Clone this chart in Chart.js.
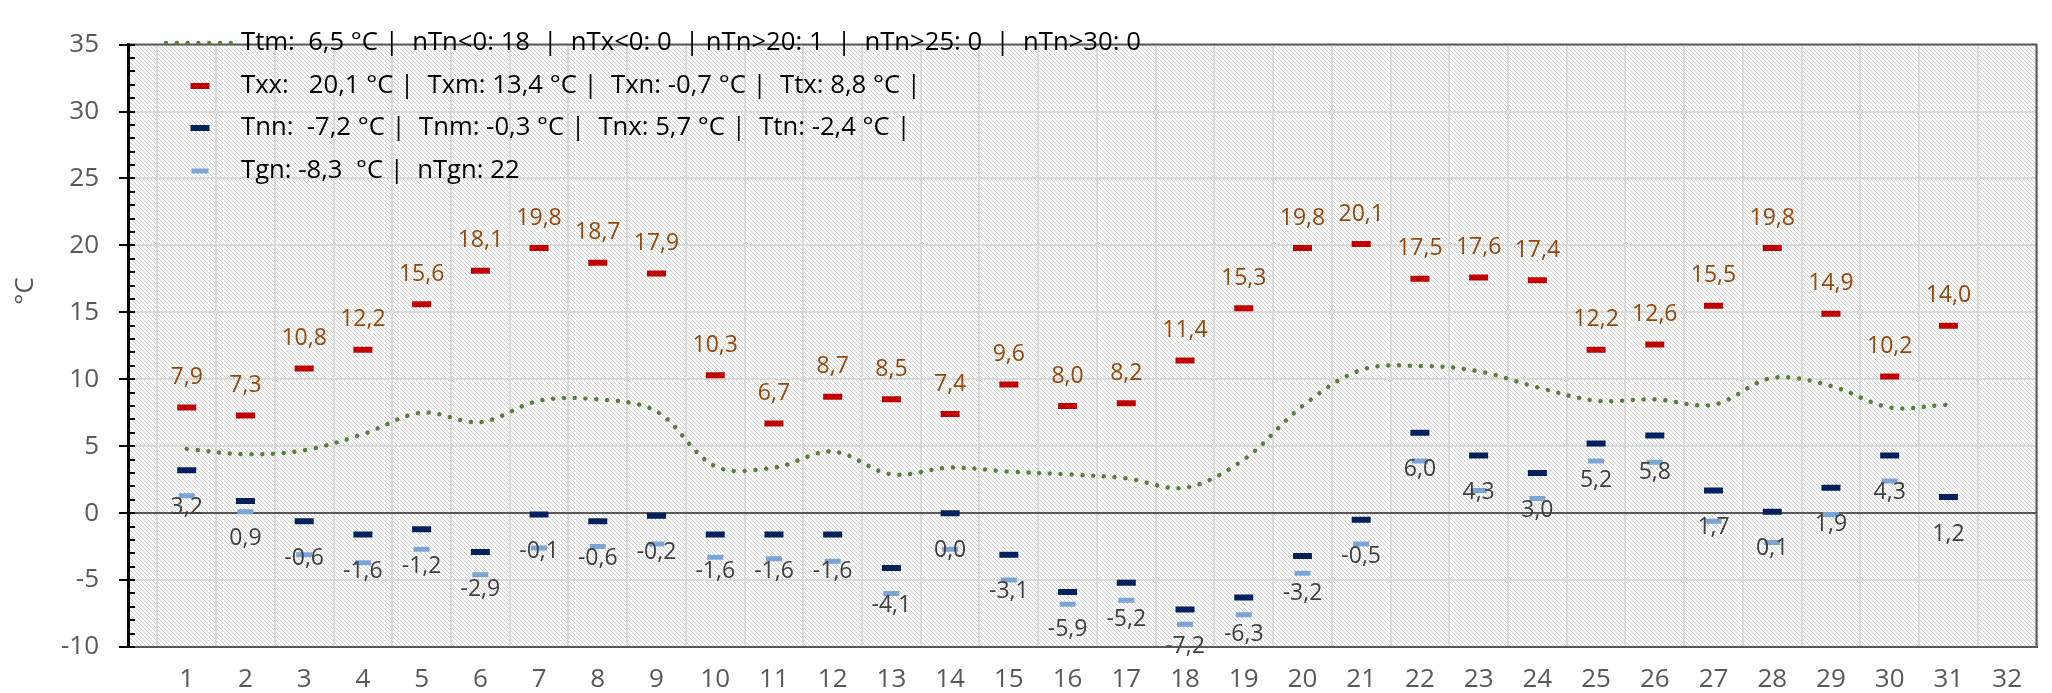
<!DOCTYPE html>
<html>
<head>
<meta charset="utf-8">
<title>Temperature month</title>
<script src="https://cdn.jsdelivr.net/npm/chart.js@4.4.1/dist/chart.umd.min.js"></script>
<style>
  html, body { margin: 0; padding: 0; background: #fff; }
  #wrap { width: 2052px; height: 693px; position: relative; }
</style>
</head>
<body>
<div id="wrap"><canvas id="tempChart"></canvas></div>
<script>
// days of the month (category labels)
const days = ['1','2','3','4','5','6','7','8','9','10','11','12','13','14','15','16',
              '17','18','19','20','21','22','23','24','25','26','27','28','29','30','31'];
const xTickValues = [1,2,3,4,5,6,7,8,9,10,11,12,13,14,15,16,17,18,19,20,21,22,23,24,25,26,27,28,29,30,31,32];

// daily mean temperature (Ttm)
const tempMean = [4.8, 4.4, 4.7, 5.9, 7.5, 6.8, 8.4, 8.5, 7.6, 3.5, 3.4, 4.6, 2.9, 3.4, 3.1, 2.9,
                  2.6, 1.9, 4.0, 8.0, 10.7, 11.0, 10.6, 9.4, 8.4, 8.5, 8.1, 10.1, 9.5, 7.9, 8.1];
// daily maximum (Tx)
const tempMax = [7.9, 7.3, 10.8, 12.2, 15.6, 18.1, 19.8, 18.7, 17.9, 10.3, 6.7, 8.7, 8.5, 7.4, 9.6, 8.0,
                 8.2, 11.4, 15.3, 19.8, 20.1, 17.5, 17.6, 17.4, 12.2, 12.6, 15.5, 19.8, 14.9, 10.2, 14.0];
// daily minimum (Tn)
const tempMin = [3.2, 0.9, -0.6, -1.6, -1.2, -2.9, -0.1, -0.6, -0.2, -1.6, -1.6, -1.6, -4.1, 0.0, -3.1, -5.9,
                 -5.2, -7.2, -6.3, -3.2, -0.5, 6.0, 4.3, 3.0, 5.2, 5.8, 1.7, 0.1, 1.9, 4.3, 1.2];
// ground minimum (Tg)
const tempGround = [1.3, 0.1, -3.1, -3.7, -2.7, -4.6, -2.6, -2.5, -2.3, -3.3, -3.4, -3.6, -6.0, -2.7, -5.0, -6.8,
                    -6.5, -8.3, -7.6, -4.5, -2.3, 3.9, 1.7, 1.1, 3.9, 3.8, -0.6, -2.2, -0.1, 2.4, null];

const legendTexts = [
  'Ttm:  6,5 °C |  nTn<0: 18  |  nTx<0: 0  | nTn>20: 1  |  nTn>25: 0  |  nTn>30: 0',
  'Txx:   20,1 °C |  Txm: 13,4 °C |  Txn: -0,7 °C |  Ttx: 8,8 °C |',
  'Tnn:  -7,2 °C |  Tnm: -0,3 °C |  Tnx: 5,7 °C |  Ttn: -2,4 °C |',
  'Tgn: -8,3  °C |  nTgn: 22'
];

const FONT = '"Open Sans", "Liberation Sans", sans-serif';
const GREEN = '#548235', RED = '#c00000', NAVY = '#002060', LIGHTBLUE = '#7ba5d6';
const DOTS = [0.01, 10.8];

function fmt(v) {
  return v.toFixed(1).replace('.', ',');
}

// hatched plot background (light downward diagonal)
const hatchPlugin = {
  id: 'hatch',
  beforeDraw(chart) {
    const { ctx, chartArea: a } = chart;
    const tile = document.createElement('canvas');
    tile.width = 4; tile.height = 4;
    const t = tile.getContext('2d');
    t.fillStyle = '#ffffff';
    t.fillRect(0, 0, 4, 4);
    t.fillStyle = '#cdcdcd';
    for (let i = 0; i < 4; i++) t.fillRect(i, i, 1, 1);
    ctx.save();
    ctx.fillStyle = ctx.createPattern(tile, 'repeat');
    ctx.fillRect(a.left, a.top, a.right - a.left, a.bottom - a.top);
    ctx.restore();
  }
};

// frame on top/right and the tick marks of the value axis
const framePlugin = {
  id: 'frame',
  beforeDatasetsDraw(chart) {
    const { ctx, chartArea: a } = chart;
    const y = chart.scales.y;
    ctx.save();
    ctx.strokeStyle = '#595959';
    ctx.lineWidth = 2;
    ctx.beginPath();
    ctx.moveTo(a.left, a.top);
    ctx.lineTo(a.right, a.top);
    ctx.lineTo(a.right, a.bottom);
    ctx.stroke();

    ctx.strokeStyle = '#000';
    ctx.lineWidth = 2;
    for (let v = y.min; v <= y.max; v++) {
      const py = Math.round(y.getPixelForValue(v));
      ctx.beginPath();
      if (v % 5 === 0) {
        ctx.moveTo(a.left - 9, py);
      } else {
        ctx.moveTo(a.left, py);
      }
      ctx.lineTo(a.left + 7, py);
      ctx.stroke();
    }
    ctx.restore();
  }
};

// value labels above max / below min
const labelPlugin = {
  id: 'valueLabels',
  afterDatasetsDraw(chart) {
    const ctx = chart.ctx;
    ctx.save();
    ctx.font = '23px ' + FONT;
    ctx.textAlign = 'center';
    ctx.textBaseline = 'middle';
    chart.data.datasets.forEach((ds, i) => {
      if (!ds.valueLabel) return;
      const meta = chart.getDatasetMeta(i);
      meta.data.forEach((pt, j) => {
        const v = ds.data[j];
        if (v === null || v === undefined) return;
        ctx.fillStyle = ds.valueLabel.color;
        ctx.fillText(fmt(v), pt.x, pt.y + ds.valueLabel.dy);
      });
    });
    ctx.restore();
  }
};

// legend in the upper left of the plot + y title
const legendPlugin = {
  id: 'innerLegend',
  afterDraw(chart) {
    const ctx = chart.ctx;
    const rowsY = [43, 86, 128, 171];
    const markers = [
      { kind: 'dots', color: GREEN },
      { kind: 'dash', color: RED, w: 19, h: 6 },
      { kind: 'dash', color: NAVY, w: 19, h: 6 },
      { kind: 'dash', color: LIGHTBLUE, w: 17, h: 5 }
    ];
    ctx.save();
    markers.forEach((m, i) => {
      const y = rowsY[i];
      ctx.strokeStyle = m.color;
      if (m.kind === 'dots') {
        ctx.lineWidth = 4.5;
        ctx.lineCap = 'round';
        ctx.setLineDash(DOTS);
        ctx.beginPath();
        ctx.moveTo(166, y);
        ctx.lineTo(234, y);
        ctx.stroke();
        ctx.setLineDash([]);
      } else {
        ctx.lineWidth = m.h;
        ctx.lineCap = 'butt';
        ctx.beginPath();
        ctx.moveTo(200 - m.w / 2, y);
        ctx.lineTo(200 + m.w / 2, y);
        ctx.stroke();
      }
    });
    ctx.font = '25.7px ' + FONT;
    ctx.fillStyle = '#000';
    ctx.textAlign = 'left';
    ctx.textBaseline = 'middle';
    legendTexts.forEach((txt, i) => ctx.fillText(txt, 241, rowsY[i]));

    // axis title
    ctx.translate(26, 291);
    ctx.rotate(-Math.PI / 2);
    ctx.textAlign = 'center';
    ctx.fillStyle = '#595959';
    ctx.font = '26px ' + FONT;
    ctx.fillText('°C', 0, 0);
    ctx.restore();
  }
};

const ctx = document.getElementById('tempChart').getContext('2d');

new Chart(ctx, {
  type: 'line',
  data: {
    labels: days,
    datasets: [
      {
        label: 'Tx',
        data: tempMax,
        showLine: false,
        pointStyle: 'line',
        pointRadius: 9.5,
        pointBorderWidth: 6,
        pointBorderColor: RED,
        pointBackgroundColor: RED,
        valueLabel: { color: '#974708', dy: -30 },
        order: 1
      },
      {
        label: 'Tn',
        data: tempMin,
        showLine: false,
        pointStyle: 'line',
        pointRadius: 9.5,
        pointBorderWidth: 6,
        pointBorderColor: NAVY,
        pointBackgroundColor: NAVY,
        valueLabel: { color: '#404040', dy: 37 },
        order: 2
      },
      {
        label: 'Tg',
        data: tempGround,
        showLine: false,
        pointStyle: 'line',
        pointRadius: 8,
        pointBorderWidth: 5,
        pointBorderColor: LIGHTBLUE,
        pointBackgroundColor: LIGHTBLUE,
        order: 3
      },
      {
        label: 'Ttm',
        data: tempMean,
        borderColor: GREEN,
        borderWidth: 4.5,
        borderDash: DOTS,
        borderCapStyle: 'round',
        pointRadius: 0,
        tension: 0.35,
        fill: false,
        order: 4
      }
    ]
  },
  options: {
    responsive: true,
    maintainAspectRatio: false,
    animation: false,
    events: [],
    layout: { padding: { top: 20, right: 10, left: 0, bottom: 0 } },
    plugins: {
      legend: { display: false },
      tooltip: { enabled: false }
    },
    scales: {
      x: {
        type: 'linear',
        min: 0,
        max: 32.5,
        afterBuildTicks: (scale) => {
          scale.ticks = xTickValues.map(v => ({ value: v }));
        },
        afterFit: (scale) => { scale.height = 46; },
        ticks: {
          autoSkip: false,
          maxRotation: 0,
          padding: 17,
          color: '#595959',
          font: { family: FONT, size: 26 },
          callback: (v) => String(v)
        },
        grid: { offset: true, color: '#d9d9d9', lineWidth: 2, drawTicks: false },
        border: { color: '#595959', width: 2 }
      },
      y: {
        min: -10,
        max: 35,
        afterFit: (scale) => { scale.width = 128; },
        ticks: {
          stepSize: 5,
          padding: 29,
          color: '#595959',
          font: { family: FONT, size: 26 }
        },
        grid: {
          drawTicks: false,
          color: (c) => (c.tick && c.tick.value === 0) ? '#595959' : '#d9d9d9',
          lineWidth: 2
        },
        border: { color: '#000', width: 3 }
      }
    }
  },
  plugins: [hatchPlugin, framePlugin, labelPlugin, legendPlugin]
});
</script>
</body>
</html>
